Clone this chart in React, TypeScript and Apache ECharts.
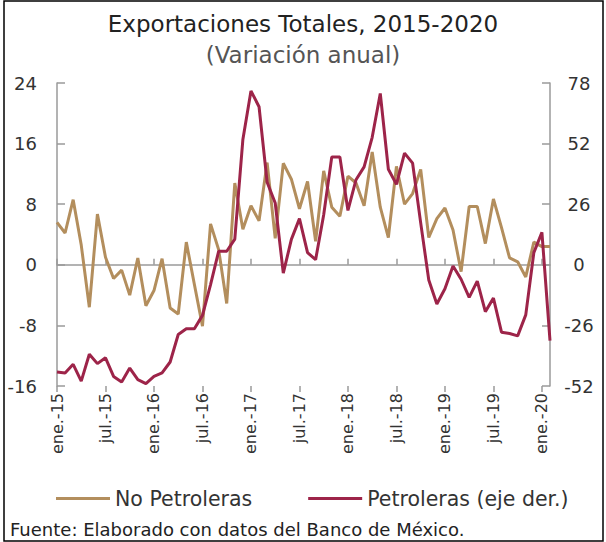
import React, { useEffect, useRef } from "react";
import * as echarts from "echarts";

const MONTHS = ["ene.", "feb.", "mar.", "abr.", "may.", "jun.", "jul.", "ago.", "sep.", "oct.", "nov.", "dic."];
const YEARS = ["15", "16", "17", "18", "19", "20"];
const categories: string[] = [];
YEARS.forEach((y) => MONTHS.forEach((m) => categories.push(`${m}-${y}`)));
categories.length = 62; // ene.-15 .. feb.-20

const noPetroleras = [
  5.6, 4.2, 8.6, 2.6, -5.6, 6.7, 1.0, -1.8, -0.7, -4.0, 0.9, -5.4,
  -3.4, 0.8, -5.7, -6.5, 3.0, -2.6, -8.1, 5.4, 2.0, -5.1, 10.8, 4.7,
  7.8, 5.8, 13.5, 3.5, 13.4, 11.3, 7.4, 11.0, 3.1, 12.4, 7.6, 6.4,
  11.7, 10.8, 7.8, 14.9, 7.6, 3.6, 13.0, 8.0, 9.4, 12.6, 3.6, 6.1,
  7.5, 4.6, -0.9, 7.7, 7.7, 2.8, 8.7, 4.9, 0.9, 0.4, -1.6, 3.0,
  2.4, 2.4,
];

const petroleras = [
  -46.0, -46.4, -42.7, -49.9, -38.4, -42.4, -39.9, -47.9, -50.3, -44.3, -49.3, -51.0,
  -47.9, -46.4, -41.7, -29.9, -27.4, -27.4, -21.7, -8.5, 5.8, 5.8, 11.0, 53.8,
  74.6, 67.8, 35.4, 26.5, -3.6, 10.9, 19.8, 5.2, 2.2, 21.5, 46.3, 46.3,
  23.3, 36.5, 42.0, 54.7, 73.5, 41.0, 34.5, 47.9, 43.6, 18.0, -6.5, -16.8,
  -10.3, -0.5, -6.2, -14.0, -7.0, -20.1, -14.3, -28.9, -29.5, -30.5, -21.5, 5.2,
  13.9, -32.5,
];

const TITLE = "Exportaciones Totales, 2015-2020";
const SUBTITLE = "(Variación anual)";
const SOURCE = "Fuente: Elaborado con datos del Banco de México.";
const SERIES_NAMES = ["No Petroleras", "Petroleras (eje der.)"];

const FONT = "'DejaVu Sans', sans-serif";
const AXIS_GRAY = "#9a9a9a";

export default function App() {
  const ref = useRef<HTMLDivElement>(null);
  useEffect(() => {
    document.body.style.margin = "0";
    const chart = echarts.init(ref.current!, null, { renderer: "svg" });
    const baseX = {
      type: "category" as const,
      data: categories,
      boundaryGap: false,
      position: "bottom" as const,
    };
    chart.setOption({
      animation: false,
      textStyle: { fontFamily: FONT },
      title: {
        text: TITLE,
        subtext: SUBTITLE,
        left: "center",
        top: 7,
        itemGap: 8,
        textStyle: { fontFamily: FONT, fontSize: 23, fontWeight: "normal", color: "#222" },
        subtextStyle: { fontFamily: FONT, fontSize: 23, color: "#555" },
      },
      grid: { left: 57, right: 56, top: 83, bottom: 156 },
      legend: {
        data: SERIES_NAMES,
        top: 483,
        left: 51,
        icon: "rect",
        itemWidth: 54,
        itemHeight: 3,
        itemGap: 56,
        textStyle: { fontFamily: FONT, fontSize: 20.5, color: "#333" },
      },
      xAxis: [
        {
          ...baseX,
          axisLine: { show: false },
          axisTick: { show: false },
          axisLabel: { interval: 5, rotate: 90, fontSize: 16, color: "#333", margin: 7, fontFamily: FONT },
        },
        {
          ...baseX,
          axisLine: { show: true, onZero: true, lineStyle: { color: AXIS_GRAY, width: 1.5 } },
          axisTick: { show: true, interval: 5, inside: true, length: 6, lineStyle: { color: AXIS_GRAY, width: 1.5 } },
          axisLabel: { show: false },
        },
        {
          ...baseX,
          axisLine: { show: false, onZero: true },
          axisTick: { show: true, interval: 5, inside: false, length: 6, lineStyle: { color: AXIS_GRAY, width: 1.5 } },
          axisLabel: { show: false },
        },
      ],
      yAxis: [
        {
          type: "value",
          min: -16,
          max: 24,
          interval: 8,
          position: "left",
          splitLine: { show: false },
          axisLine: { show: true, lineStyle: { color: AXIS_GRAY, width: 1.5 } },
          axisTick: { show: true, inside: true, length: 8, lineStyle: { color: AXIS_GRAY, width: 1.5 } },
          axisLabel: { fontSize: 18, color: "#333", margin: 20, fontFamily: FONT },
        },
        {
          type: "value",
          min: -52,
          max: 78,
          interval: 26,
          position: "right",
          splitLine: { show: false },
          axisLine: { show: true, lineStyle: { color: AXIS_GRAY, width: 1.5 } },
          axisTick: { show: true, inside: true, length: 8, lineStyle: { color: AXIS_GRAY, width: 1.5 } },
          axisLabel: { fontSize: 18, color: "#333", margin: 29, align: "center", fontFamily: FONT },
        },
      ],
      series: [
        {
          name: SERIES_NAMES[0],
          type: "line",
          xAxisIndex: 0,
          yAxisIndex: 0,
          data: noPetroleras,
          symbol: "none",
          lineStyle: { color: "#B38E5D", width: 3 },
          itemStyle: { color: "#B38E5D" },
        },
        {
          name: SERIES_NAMES[1],
          type: "line",
          xAxisIndex: 0,
          yAxisIndex: 1,
          data: petroleras,
          symbol: "none",
          lineStyle: { color: "#9D2449", width: 3 },
          itemStyle: { color: "#9D2449" },
        },
      ],
      graphic: [
        {
          type: "text",
          left: 10,
          top: 520,
          style: { text: SOURCE, fontFamily: FONT, fontSize: 18, fill: "#222" },
        },
        {
          type: "rect",
          shape: { x: 4, y: 1, width: 599, height: 540 },
          style: { fill: "none", stroke: "#000", lineWidth: 1.5 },
          silent: true,
        },
      ],
    });
    return () => chart.dispose();
  }, []);
  return <div ref={ref} style={{ width: 606, height: 542 }} />;
}
